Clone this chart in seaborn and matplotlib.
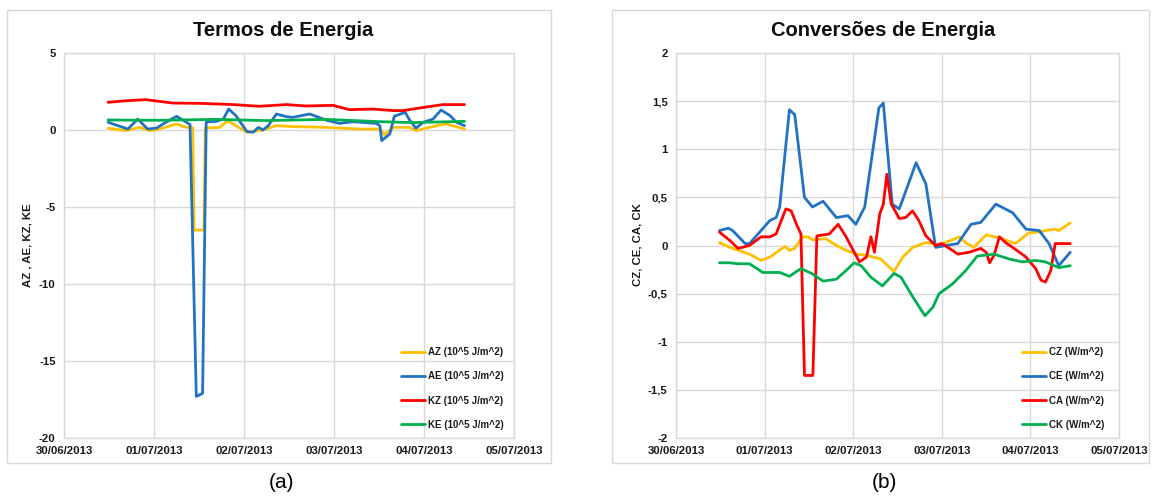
import numpy as np
import pandas as pd
import matplotlib
matplotlib.use("Agg")
import matplotlib.pyplot as plt
import matplotlib.dates as mdates
from matplotlib.patches import Rectangle
import seaborn as sns

# ---------------- data (days after 30/06/2013 00:00) ----------------
AZ_days = [0.49, 0.69, 0.84, 0.95, 1.06, 1.25, 1.36, 1.43, 1.445, 1.555, 1.57, 1.73, 1.82, 1.91, 2.03,
           2.21, 2.36, 2.54, 2.91, 3.29, 3.51, 3.56, 3.66, 3.84, 3.91, 4.14, 4.25, 4.45]
AZ_vals = [0.11, -0.04, 0.17, -0.04, 0.06, 0.39, 0.17, 0.15, -6.5, -6.5, 0.13, 0.17, 0.61, 0.28, -0.15,
           0.0, 0.28, 0.22, 0.17, 0.06, 0.06, -0.30, 0.17, 0.17, -0.04, 0.28, 0.39, 0.06]

AE_days = [0.49, 0.71, 0.82, 0.93, 1.03, 1.10, 1.25, 1.32, 1.40, 1.47, 1.54, 1.58, 1.69, 1.77, 1.83,
           1.91, 2.03, 2.10, 2.16, 2.21, 2.27, 2.36, 2.47, 2.54, 2.73, 2.91, 3.06, 3.21, 3.47, 3.51,
           3.53, 3.62, 3.67, 3.79, 3.84, 3.91, 3.99, 4.10, 4.19, 4.29, 4.36, 4.45]
AE_vals = [0.50, 0.06, 0.71, 0.06, 0.13, 0.39, 0.89, 0.65, 0.35, -17.3, -17.1, 0.52, 0.56, 0.71, 1.36,
           0.93, -0.09, -0.15, 0.17, 0.0, 0.28, 1.04, 0.87, 0.82, 1.04, 0.65, 0.43, 0.54, 0.43, 0.28,
           -0.69, -0.26, 0.89, 1.15, 0.65, 0.11, 0.50, 0.71, 1.30, 0.93, 0.50, 0.28]

KZ_days = [0.49, 0.69, 0.91, 1.06, 1.21, 1.51, 1.88, 2.17, 2.47, 2.69, 2.99, 3.17, 3.43, 3.66, 3.77,
           3.95, 4.21, 4.45]
KZ_vals = [1.80, 1.90, 1.97, 1.86, 1.75, 1.73, 1.65, 1.54, 1.65, 1.56, 1.60, 1.32, 1.36, 1.26, 1.26,
           1.43, 1.65, 1.65]

KE_days = [0.49, 1.06, 1.69, 2.25, 2.91, 3.51, 3.88, 4.45]
KE_vals = [0.65, 0.63, 0.69, 0.61, 0.69, 0.54, 0.48, 0.56]

CZ_days = [0.49, 0.61, 0.70, 0.83, 0.96, 1.06, 1.17, 1.23, 1.28, 1.34, 1.43, 1.49, 1.54, 1.69, 1.81,
           1.92, 2.03, 2.15, 2.22, 2.31, 2.46, 2.56, 2.67, 2.82, 2.97, 3.08, 3.20, 3.27, 3.36, 3.50,
           3.65, 3.83, 3.98, 4.10, 4.17, 4.28, 4.32, 4.45]
CZ_vals = [0.03, -0.02, -0.05, -0.09, -0.155, -0.12, -0.05, -0.01, -0.05, -0.03, 0.09, 0.09, 0.06, 0.07, 0.0,
           -0.05, -0.09, -0.10, -0.12, -0.14, -0.27, -0.12, -0.02, 0.03, 0.01, 0.045, 0.09, 0.03, -0.02, 0.11,
           0.08, 0.02, 0.13, 0.14, 0.155, 0.17, 0.155, 0.235]

CE_days = [0.49, 0.59, 0.64, 0.78, 0.83, 0.96, 1.06, 1.13, 1.17, 1.28, 1.34, 1.45, 1.54, 1.66, 1.81,
           1.94, 2.03, 2.13, 2.29, 2.34, 2.44, 2.52, 2.71, 2.82, 2.93, 3.05, 3.18, 3.33, 3.44, 3.61,
           3.80, 3.95, 4.10, 4.21, 4.32, 4.45]
CE_vals = [0.155, 0.18, 0.155, 0.02, 0.02, 0.155, 0.26, 0.29, 0.40, 1.41, 1.36, 0.5, 0.40, 0.46, 0.29,
           0.31, 0.22, 0.40, 1.43, 1.48, 0.43, 0.38, 0.86, 0.64, -0.02, 0.0, 0.02, 0.22, 0.24, 0.43,
           0.34, 0.17, 0.155, 0.02, -0.21, -0.07]

CA_days = [0.49, 0.61, 0.70, 0.83, 0.96, 1.06, 1.13, 1.24, 1.30, 1.36, 1.41, 1.45, 1.545, 1.59, 1.73,
           1.83, 1.92, 2.0, 2.07, 2.15, 2.2, 2.24, 2.30, 2.34, 2.38, 2.43, 2.52, 2.59, 2.67, 2.74,
           2.82, 2.93, 3.0, 3.12, 3.18, 3.31, 3.44, 3.50, 3.54, 3.59, 3.65, 3.72, 3.80, 3.95, 4.06,
           4.12, 4.17, 4.23, 4.28, 4.45]
CA_vals = [0.14, 0.05, -0.03, 0.0, 0.09, 0.09, 0.12, 0.38, 0.36, 0.22, 0.12, -1.35, -1.35, 0.10, 0.12,
           0.22, 0.09, -0.05, -0.17, -0.12, 0.09, -0.07, 0.33, 0.43, 0.74, 0.43, 0.28, 0.29, 0.36, 0.26,
           0.10, 0.0, 0.02, -0.05, -0.09, -0.07, -0.03, -0.07, -0.18, -0.10, 0.09, 0.03, -0.02, -0.12, -0.24,
           -0.36, -0.38, -0.26, 0.02, 0.02]

CK_days = [0.49, 0.61, 0.70, 0.83, 0.98, 1.17, 1.28, 1.41, 1.53, 1.66, 1.81, 1.92, 2.01, 2.09, 2.20,
           2.33, 2.46, 2.54, 2.67, 2.81, 2.90, 2.97, 3.12, 3.27, 3.40, 3.59, 3.76, 3.91, 4.06, 4.17,
           4.32, 4.45]
CK_vals = [-0.18, -0.18, -0.19, -0.19, -0.28, -0.28, -0.32, -0.24, -0.29, -0.37, -0.35, -0.26, -0.18, -0.21, -0.33,
           -0.42, -0.29, -0.33, -0.53, -0.73, -0.64, -0.5, -0.40, -0.26, -0.11, -0.09, -0.14, -0.17, -0.155, -0.17,
           -0.23, -0.21]

left_labels = ["AZ (10^5 J/m^2)", "AE (10^5 J/m^2)", "KZ (10^5 J/m^2)", "KE (10^5 J/m^2)"]
right_labels = ["CZ (W/m^2)", "CE (W/m^2)", "CA (W/m^2)", "CK (W/m^2)"]
left_yticks = [5, 0, -5, -10, -15, -20]
right_yticks = [2, 1.5, 1, 0.5, 0, -0.5, -1, -1.5, -2]
right_yticklabels = ["2", "1,5", "1", "0,5", "0", "-0,5", "-1", "-1,5", "-2"]
tick_dates = pd.date_range("2013-06-30", "2013-07-05", freq="D")

colors = ["#FFC000", "#2272C3", "#FF0000", "#00B050"]

# ---------------- style ----------------
sns.set_theme(style="white")
plt.rcParams["font.family"] = ["Liberation Sans", "DejaVu Sans"]
plt.rcParams["axes.unicode_minus"] = False

W, H = 1152, 499
fig = plt.figure(figsize=(W / 100, H / 100), dpi=100)
fig.patch.set_facecolor("white")

base = pd.Timestamp("2013-06-30")


def to_dates(days):
    return base + pd.to_timedelta(np.array(days), unit="D")


def px_axes(x0, x1, y0, y1):
    return fig.add_axes([x0 / W, 1 - y1 / H, (x1 - x0) / W, (y1 - y0) / H])


grid_c = "#D9D9D9"
text_c = "#1a1a1a"


def style_axes(ax, yticks, ylim, yticklabels=None):
    ax.set_xlim(tick_dates[0], tick_dates[-1])
    ax.set_ylim(*ylim)
    ax.set_xticks(tick_dates)
    ax.xaxis.set_major_formatter(mdates.DateFormatter("%d/%m/%Y"))
    ax.set_yticks(yticks)
    if yticklabels is not None:
        ax.set_yticklabels(yticklabels)
    ax.grid(True, color=grid_c, linewidth=1.0)
    for s in ax.spines.values():
        s.set_color(grid_c)
        s.set_linewidth(1.0)
    ax.tick_params(axis="both", length=0, labelsize=8.2, colors=text_c, pad=6)
    for lab in ax.get_xticklabels() + ax.get_yticklabels():
        lab.set_fontweight("bold")
    ax.set_xlabel("")


# ---------------- left panel ----------------
axL = px_axes(64, 514, 53, 438)
for d, v, c, lab in zip([AZ_days, AE_days, KZ_days, KE_days],
                        [AZ_vals, AE_vals, KZ_vals, KE_vals], colors, left_labels):
    sns.lineplot(x=to_dates(d), y=v, ax=axL, color=c, linewidth=2.0, label=lab,
                 estimator=None, sort=False)
style_axes(axL, left_yticks, (-20, 5))
axL.set_ylabel("")
axL.legend_.remove()

# ---------------- right panel ----------------
axR = px_axes(676, 1119, 53, 438)
for d, v, c, lab in zip([CZ_days, CE_days, CA_days, CK_days],
                        [CZ_vals, CE_vals, CA_vals, CK_vals], colors, right_labels):
    sns.lineplot(x=to_dates(d), y=v, ax=axR, color=c, linewidth=2.0, label=lab,
                 estimator=None, sort=False)
style_axes(axR, right_yticks, (-2, 2), right_yticklabels)
axR.set_ylabel("")
axR.legend_.remove()

# legends
for ax, x_px in [(axL, 401), (axR, 1022)]:
    h, l = ax.get_legend_handles_labels()
    leg = fig.legend(h, l, loc="center left", bbox_to_anchor=(x_px / W, 1 - 388.5 / H),
                     bbox_transform=fig.transFigure, frameon=False, fontsize=7,
                     handlelength=2.5, handletextpad=0.3, labelspacing=1.45,
                     borderpad=0, borderaxespad=0)
    for t in leg.get_texts():
        t.set_fontweight("bold")
        t.set_color(text_c)

# titles, axis labels
fig.text(283 / W, 1 - 31 / H, "Termos de Energia", ha="center", va="center",
         fontsize=14.5, fontweight="bold", color="#0d0d0d")
fig.text(883 / W, 1 - 31 / H, "Conversões de Energia", ha="center", va="center",
         fontsize=14.5, fontweight="bold", color="#0d0d0d")
fig.text(28 / W, 1 - 245 / H, "AZ , AE, KZ, KE", ha="center", va="center", rotation=90,
         fontsize=8.2, fontweight="bold", color=text_c)
fig.text(637 / W, 1 - 245 / H, "CZ, CE, CA, CK", ha="center", va="center", rotation=90,
         fontsize=8.2, fontweight="bold", color=text_c)

# panel frames
for x0, x1 in [(7, 551), (612, 1149)]:
    fig.add_artist(Rectangle((x0 / W, 1 - 463 / H), (x1 - x0) / W, (463 - 10) / H,
                             transform=fig.transFigure, fill=False, edgecolor="#D9D9D9",
                             linewidth=1.0))

# sub-figure captions
fig.text(282 / W, 1 - 482 / H, "(a)", ha="center", va="center", fontsize=15, color="#000000")
fig.text(884 / W, 1 - 482 / H, "(b)", ha="center", va="center", fontsize=15, color="#000000")

fig.savefig("out.png", dpi=100, facecolor="white")
